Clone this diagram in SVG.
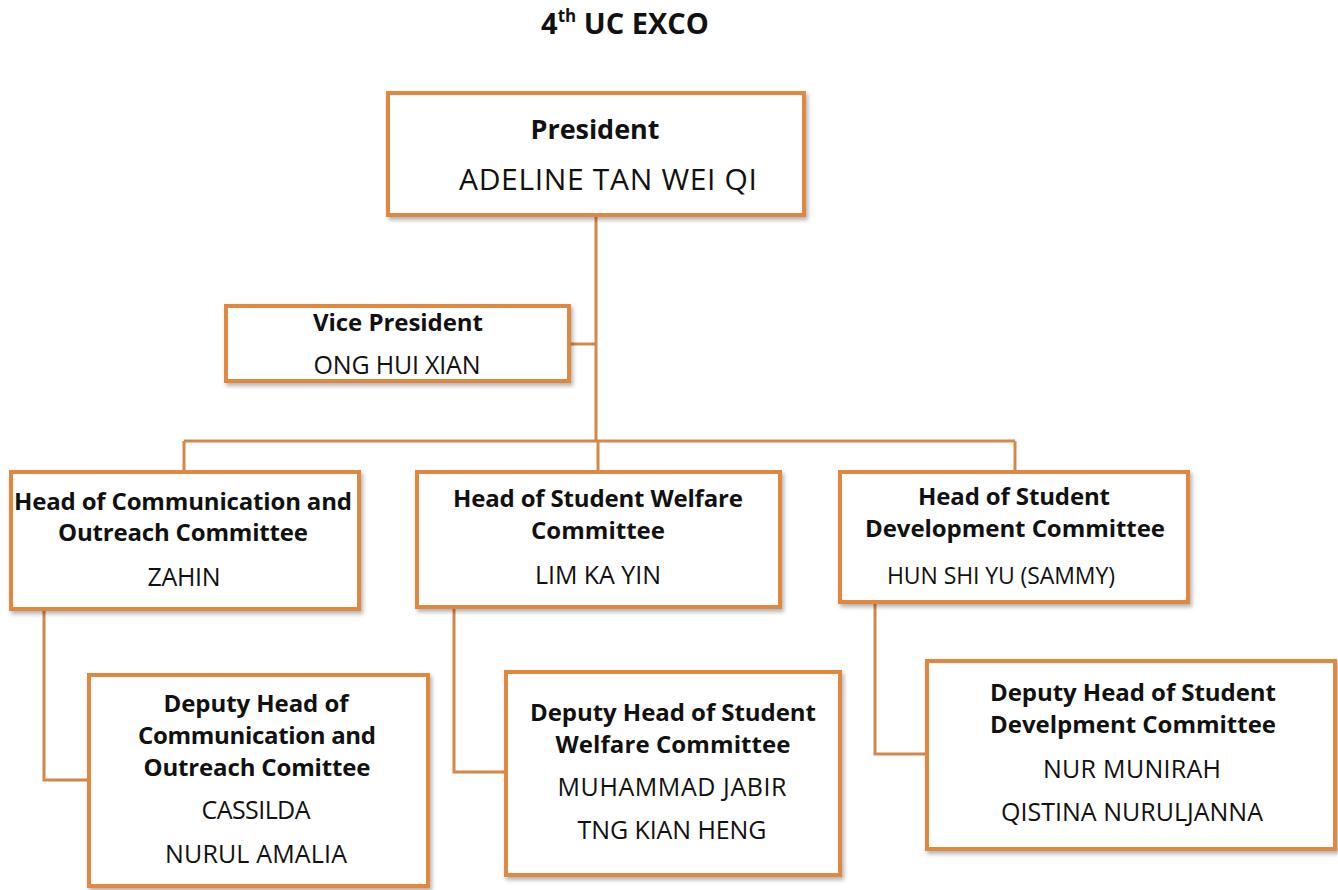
<svg xmlns="http://www.w3.org/2000/svg" width="1338" height="890" viewBox="0 0 1338 890">
<defs>
<filter id="sh" x="-5%" y="-5%" width="112%" height="115%"><feDropShadow dx="2" dy="3" stdDeviation="2" flood-color="#000" flood-opacity="0.3"/></filter>
<style>
.box{fill:#fff;stroke:#E0883F;stroke-width:4;filter:url(#sh)}
.ln{fill:none;stroke:#D3884A;stroke-width:3}
text{font-family:"Open Sans","Liberation Sans",sans-serif;fill:#111;text-anchor:middle}
.b{font-weight:bold;font-size:24px}
.n{font-size:25px}
</style>
</defs>
<rect width="1338" height="890" fill="#fff"/>
<text x="625" y="34" class="b" style="font-size:29px">4<tspan font-size="17" dy="-12">th</tspan><tspan dy="12"> UC EXCO</tspan></text>
<g id="connectors">
<path class="ln" d="M596 217V441M571 344H596M184 441H1015M184 441V470M598 441V470M1015 441V470"/>
<path class="ln" d="M44 611V780H87M454 609V772H504M875 604V754H925"/>
</g>
<g id="president"><rect class="box" x="388" y="93" width="416" height="122"/>
<text x="595" y="139" class="b" style="font-size:27px" textLength="129">President</text><text x="608" y="190" class="n" style="font-size:30px" textLength="298">ADELINE TAN WEI QI</text></g>
<g id="vp"><rect class="box" x="226" y="306" width="343" height="75"/>
<text x="398" y="331" class="b" textLength="170">Vice President</text><text x="397" y="374" class="n" textLength="167">ONG HUI XIAN</text></g>
<g id="head-comm"><rect class="box" x="11" y="472" width="348" height="137"/>
<text x="183" y="510" class="b" textLength="338">Head of Communication and</text><text x="183" y="541" class="b" textLength="250">Outreach Committee</text><text x="184" y="586" class="n" textLength="73">ZAHIN</text></g>
<g id="head-welfare"><rect class="box" x="417" y="472" width="363" height="135"/>
<text x="598" y="507" class="b" textLength="290">Head of Student Welfare</text><text x="598" y="539" class="b" textLength="134">Committee</text><text x="598" y="584" class="n" textLength="126">LIM KA YIN</text></g>
<g id="head-dev"><rect class="box" x="840" y="472" width="348" height="130"/>
<text x="1014" y="505" class="b" textLength="192">Head of Student</text><text x="1015" y="537" class="b" textLength="300">Development Committee</text><text x="1001" y="584" class="n" style="font-size:23px" textLength="228">HUN SHI YU (SAMMY)</text></g>
<g id="deputy-comm"><rect class="box" x="89" y="675" width="339" height="211"/>
<text x="256" y="712" class="b" textLength="185">Deputy Head of</text><text x="257" y="744" class="b" textLength="238">Communication and</text><text x="257" y="776" class="b" textLength="227">Outreach Comittee</text><text x="256" y="819" class="n" textLength="109">CASSILDA</text><text x="256" y="863" class="n" textLength="182">NURUL AMALIA</text></g>
<g id="deputy-welfare"><rect class="box" x="506" y="672" width="334" height="203"/>
<text x="673" y="721" class="b" textLength="286">Deputy Head of Student</text><text x="673" y="753" class="b" textLength="235">Welfare Committee</text><text x="672" y="796" class="n" textLength="229">MUHAMMAD JABIR</text><text x="672" y="839" class="n" textLength="189">TNG KIAN HENG</text></g>
<g id="deputy-dev"><rect class="box" x="927" y="661" width="408" height="188"/>
<text x="1133" y="701" class="b" textLength="286">Deputy Head of Student</text><text x="1133" y="733" class="b" textLength="286">Develpment Committee</text><text x="1132" y="778" class="n" textLength="178">NUR MUNIRAH</text><text x="1132" y="821" class="n" textLength="262">QISTINA NURULJANNA</text></g>
</svg>
